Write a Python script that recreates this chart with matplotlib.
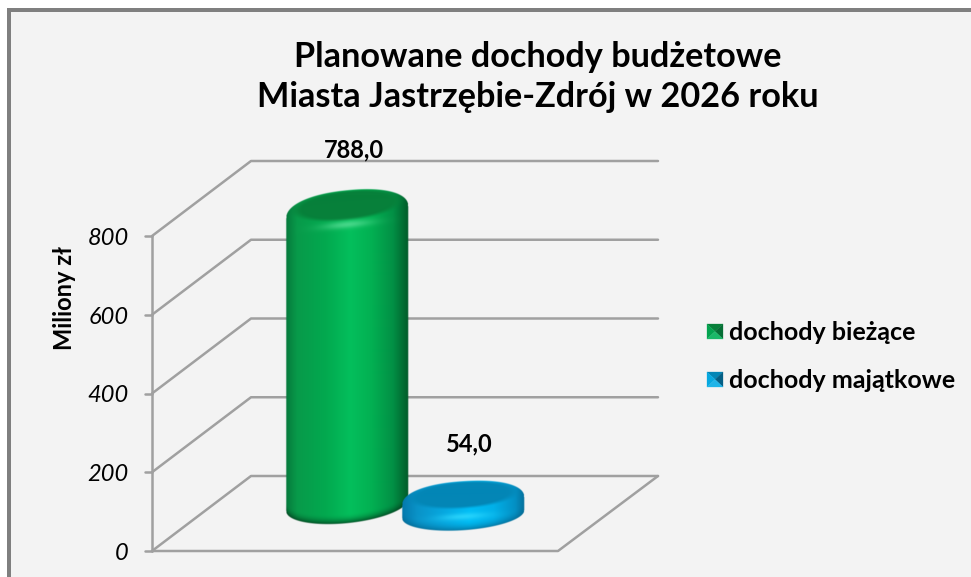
import numpy as np
import matplotlib
matplotlib.use('Agg')
import matplotlib.pyplot as plt
from matplotlib.colors import to_rgb
from matplotlib.patches import Rectangle, Polygon

plt.rcParams['font.family'] = ['Lato', 'DejaVu Sans']

# data
series = ['dochody bieżące', 'dochody majątkowe']
values = [788.0, 54.0]
value_labels = ['788,0', '54,0']
tick_values = [0, 200, 400, 600, 800]
tick_labels = ['0', '200', '400', '600', '800']

title = 'Planowane dochody budżetowe\nMiasta Jastrzębie-Zdrój w 2026 roku'
y_title = 'Miliony zł'

# layout in pixels, the value axis maps 0 -> 551 and 800 -> 236
W, H = 971, 577
PX_PER_UNIT = 315 / 800
Y0 = 551
DX, DY = 99, 75


def val(py):
    return (Y0 - py) / PX_PER_UNIT


def px(v):
    return Y0 - v * PX_PER_UNIT


fig = plt.figure(figsize=(W / 100, H / 100), dpi=100, facecolor='white')
ax = fig.add_axes([0, 0, 1, 1])
ax.set_axis_off()
ax.set_xlim(0, W)
ax.set_ylim(val(H), val(0))

# outer frame
ax.add_patch(Rectangle((7, val(H)), W, val(8) - val(H), fc='#7f7f7f', ec='none', zorder=0))
ax.add_patch(Rectangle((11, val(H)), W, val(12) - val(H), fc='#f3f3f3', ec='none', zorder=0.1))

# walls and floor
line = dict(color='#a0a0a0', lw=1.8, solid_capstyle='round', zorder=1)
dy_val = DY / PX_PER_UNIT
for t, lab in zip(tick_values, tick_labels):
    ax.plot([152, 152 + DX, 658], [t, t + dy_val, t + dy_val], **line)
    ax.plot([145, 152], [t, t], **line)
    ax.text(129, val(px(t) + 2.5), lab, ha='right', va='center',
            fontsize=17, style='italic', color='black')
ax.plot([152, 152], [0, 800], **line)
ax.plot([152, 558, 658], [0, 0, dy_val], **line)


def cylinder(value, foot, cx, half_w, cap_h, foot_h, tilt, depth, side_stops, inner, glow, glow_v, shade, z):
    top_y = px(value) - depth
    bot_y = px(foot) - depth
    xs = np.arange(cx - half_w - 2, cx + half_w + 2, 0.5)
    ys = np.arange(top_y - cap_h - tilt - 3, bot_y + foot_h + tilt + 3, 0.5)
    X, Y = np.meshgrid(xs, ys)
    u = (X - cx) / half_w
    uc = np.clip(u, -1, 1)
    # shoulder of the cap is rounder than a plain ellipse
    top_edge = top_y - cap_h * (1 - np.abs(uc) ** 2.2) ** (1 / 2.2) - tilt * uc
    bot_edge = bot_y + foot_h * np.sqrt(1 - uc ** 2) - tilt * uc

    # side colours across the width
    pos = [s[0] for s in side_stops]
    rgb = np.array([to_rgb(s[1]) for s in side_stops])
    img = np.dstack([np.interp(u, pos, rgb[:, i]) for i in range(3)])

    # darker rim towards the foot
    d = np.clip(1 - (bot_edge - Y) / 10, 0, 1)[..., None] ** 2
    img = img * (1 - 0.8 * d) + np.array(to_rgb(shade)) * 0.8 * d

    # top cap: dark centre and a soft light on the front of the rim
    v = (Y - top_y + tilt * uc) / cap_h
    r = np.sqrt((u / 0.86) ** 2 + ((v + 0.32) / 0.66) ** 2)
    t = np.clip((r - 0.84) / 0.3, 0, 1)[..., None]
    t = t * t * (3 - 2 * t)
    img = img * t + np.array(to_rgb(inner)) * (1 - t)
    g = (np.exp(-(u / 0.4) ** 2) * np.exp(-((v - glow_v) / 0.17) ** 2))[..., None] * 0.7
    img = img * (1 - g) + np.array(to_rgb(glow)) * g

    alpha = (np.clip(Y - top_edge + 0.5, 0, 1) * np.clip(bot_edge - Y + 0.5, 0, 1)
             * np.clip((1 - np.abs(u)) * half_w + 0.5, 0, 1))
    ax.imshow(np.dstack([img, alpha]), extent=(xs[0], xs[-1], val(ys[-1]), val(ys[0])),
              origin='upper', aspect='auto', interpolation='bilinear', zorder=z)


green_side = [(-1, '#067a3c'), (-0.82, '#089a4a'), (-0.35, '#02a94f'), (0.05, '#04bf5c'),
              (0.4, '#02b052'), (0.75, '#029045'), (1, '#015c2a')]
blue_side = [(-1, '#0479ad'), (-0.75, '#0a93c8'), (-0.3, '#06a8e0'), (0.1, '#00bdf5'),
             (0.5, '#02b0e8'), (0.85, '#0490c4'), (1, '#04719d')]

cylinder(values[0], 43, 347, 61, 22, 18, 6, 29, green_side, '#07803a', '#5fe09a', 0.56, '#013d1c', 3)
cylinder(values[1], 20, 463, 61, 20, 16, 4, 29, blue_side, '#0386b6', '#35dcff', 0.78, '#046a94', 4)

# texts
ax.text(538, val(77), title, ha='center', va='center', fontsize=24.7, fontweight='bold',
        color='black', linespacing=1.32, zorder=6)
ax.text(354, val(150), value_labels[0], ha='center', va='center', fontsize=17,
        fontweight='bold', zorder=6)
ax.text(469, val(444), value_labels[1], ha='center', va='center', fontsize=17,
        fontweight='bold', zorder=6)
ax.text(65, val(298), y_title, rotation=90, ha='center', va='center', fontsize=17,
        fontweight='bold', zorder=6)


# legend keys, four shaded triangles each
def key(x0, py, c_top, c_left, c_right, c_bottom):
    x1 = x0 + 16
    yt, yb = val(py), val(py + 15)
    xm, ym = (x0 + x1) / 2, (yt + yb) / 2
    for pts, c in [([(x0, yt), (x1, yt), (xm, ym)], c_top),
                   ([(x0, yt), (x0, yb), (xm, ym)], c_left),
                   ([(x1, yt), (x1, yb), (xm, ym)], c_right),
                   ([(x0, yb), (x1, yb), (xm, ym)], c_bottom)]:
        ax.add_patch(Polygon(pts, closed=True, fc=c, ec=c, lw=0.2, zorder=5))


key(707, 324, '#07803a', '#03a34f', '#056e35', '#19b868')
key(707, 372, '#0386b6', '#06a8e0', '#045f85', '#1eb4e8')
ax.text(729, val(332), series[0], ha='left', va='center', fontsize=18, fontweight='bold', zorder=6)
ax.text(729, val(380), series[1], ha='left', va='center', fontsize=18, fontweight='bold', zorder=6)

ax.set_xlim(0, W)
ax.set_ylim(val(H), val(0))
fig.savefig('out.png', dpi=100)
